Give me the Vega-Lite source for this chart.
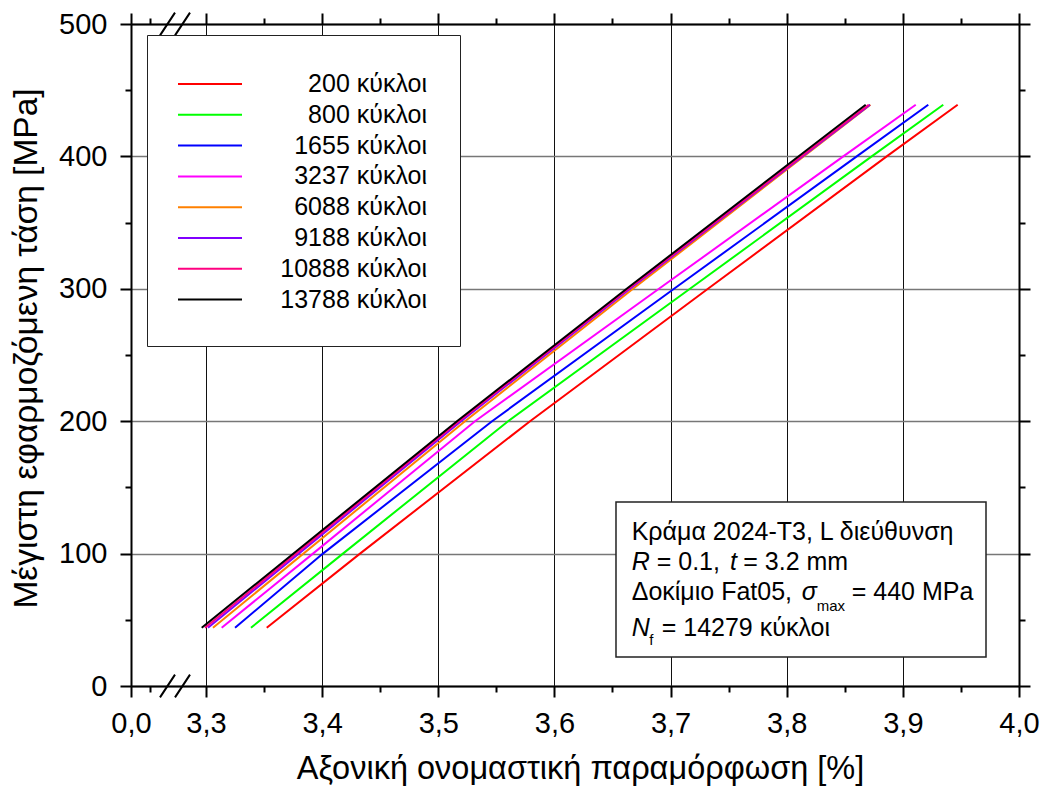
{
  "$schema": "https://vega.github.io/schema/vega-lite/v6.json",
  "autosize": {"type": "none"},
  "padding": {"left": 131, "top": 24, "right": 24, "bottom": 103},
  "width": 888,
  "height": 662,
  "background": "white",
  "config": {
    "font": "Liberation Sans",
    "view": {"stroke": null},
    "axis": {"labelColor": "black", "titleColor": "black", "tickColor": "black", "domainColor": "black", "titleFontWeight": "normal"}
  },
  "resolve": {"scale": {"x": "shared", "y": "shared"}, "axis": {"x": "independent", "y": "independent"}},
  "layer": [
    {
      "data": {"values": [
        {"series": "200 κύκλοι", "strain": 3.3523, "stress": 44},
        {"series": "200 κύκλοι", "strain": 3.4326, "stress": 100},
        {"series": "200 κύκλοι", "strain": 3.5790, "stress": 200},
        {"series": "200 κύκλοι", "strain": 3.7322, "stress": 300},
        {"series": "200 κύκλοι", "strain": 3.8861, "stress": 400},
        {"series": "200 κύκλοι", "strain": 3.9472, "stress": 439},
        {"series": "800 κύκλοι", "strain": 3.3387, "stress": 44},
        {"series": "800 κύκλοι", "strain": 3.4179, "stress": 100},
        {"series": "800 κύκλοι", "strain": 3.5601, "stress": 200},
        {"series": "800 κύκλοι", "strain": 3.7167, "stress": 300},
        {"series": "800 κύκλοι", "strain": 3.8732, "stress": 400},
        {"series": "800 κύκλοι", "strain": 3.9348, "stress": 439},
        {"series": "1655 κύκλοι", "strain": 3.3250, "stress": 44},
        {"series": "1655 κύκλοι", "strain": 3.4007, "stress": 100},
        {"series": "1655 κύκλοι", "strain": 3.5463, "stress": 200},
        {"series": "1655 κύκλοι", "strain": 3.7030, "stress": 300},
        {"series": "1655 κύκλοι", "strain": 3.8603, "stress": 400},
        {"series": "1655 κύκλοι", "strain": 3.9219, "stress": 439},
        {"series": "3237 κύκλοι", "strain": 3.3135, "stress": 44},
        {"series": "3237 κύκλοι", "strain": 3.3921, "stress": 100},
        {"series": "3237 κύκλοι", "strain": 3.5316, "stress": 200},
        {"series": "3237 κύκλοι", "strain": 3.6900, "stress": 300},
        {"series": "3237 κύκλοι", "strain": 3.8487, "stress": 400},
        {"series": "3237 κύκλοι", "strain": 3.9111, "stress": 439},
        {"series": "6088 κύκλοι", "strain": 3.3060, "stress": 44},
        {"series": "6088 κύκλοι", "strain": 3.5230, "stress": 200},
        {"series": "6088 κύκλοι", "strain": 3.6677, "stress": 300},
        {"series": "6088 κύκλοι", "strain": 3.8721, "stress": 439},
        {"series": "9188 κύκλοι", "strain": 3.3017, "stress": 44},
        {"series": "9188 κύκλοι", "strain": 3.5196, "stress": 200},
        {"series": "9188 κύκλοι", "strain": 3.6651, "stress": 300},
        {"series": "9188 κύκλοι", "strain": 3.8717, "stress": 439},
        {"series": "10888 κύκλοι", "strain": 3.2991, "stress": 44},
        {"series": "10888 κύκλοι", "strain": 3.5178, "stress": 200},
        {"series": "10888 κύκλοι", "strain": 3.6638, "stress": 300},
        {"series": "10888 κύκλοι", "strain": 3.8706, "stress": 439},
        {"series": "13788 κύκλοι", "strain": 3.2963, "stress": 44},
        {"series": "13788 κύκλοι", "strain": 3.5161, "stress": 200},
        {"series": "13788 κύκλοι", "strain": 3.6622, "stress": 300},
        {"series": "13788 κύκλοι", "strain": 3.8680, "stress": 439}
      ]},
      "mark": {"type": "line", "strokeWidth": 2},
      "encoding": {
        "x": {
          "field": "strain", "type": "quantitative",
          "scale": {"domain": [0, 0.12, 3.28, 4.0], "range": [0, 45.6, 51.77, 888], "nice": false, "zero": false},
          "axis": {
            "orient": "bottom",
            "values": [0, 3.3, 3.4, 3.5, 3.6, 3.7, 3.8, 3.9, 4.0],
            "labelExpr": "replace(format(datum.value, '.1f'), '.', ',')",
            "labelFontSize": 29, "labelBaseline": "alphabetic", "labelPadding": 35,
            "labelOverlap": false, "labelFlush": false,
            "tickSize": 11, "tickWidth": 2, "domainWidth": 2,
            "grid": true, "gridColor": "#111111", "gridWidth": 1,
            "title": "Αξονική ονομαστική παραμόρφωση [%]",
            "titleFontSize": 32.5, "titleX": 449, "titleY": 92, "titleBaseline": "alphabetic"
          }
        },
        "y": {
          "field": "stress", "type": "quantitative",
          "scale": {"domain": [0, 500], "nice": false, "zero": true},
          "axis": {
            "orient": "left",
            "values": [0, 100, 200, 300, 400, 500],
            "labelFontSize": 29, "labelPadding": 13,
            "tickSize": 11, "tickWidth": 2, "domainWidth": 2,
            "grid": true, "gridColor": "#777777", "gridWidth": 1.5,
            "title": "Μέγιστη εφαρμοζόμενη τάση [MPa]",
            "titleFontSize": 33.5, "titleX": -95, "titleY": 324, "titleBaseline": "alphabetic"
          }
        },
        "color": {
          "field": "series", "type": "nominal",
          "scale": {
            "domain": ["200 κύκλοι", "800 κύκλοι", "1655 κύκλοι", "3237 κύκλοι", "6088 κύκλοι", "9188 κύκλοι", "10888 κύκλοι", "13788 κύκλοι"],
            "range": ["#ff0000", "#00ff00", "#0000ff", "#ff00ff", "#ff8000", "#8000ff", "#ff0080", "#000000"]
          },
          "legend": {
            "orient": "none", "legendX": 16, "legendY": 11,
            "title": null,
            "labelFontSize": 25, "labelColor": "black", "labelAlign": "right", "labelOffset": 201, "labelLimit": 0,
            "symbolType": "M-2.1333,0H2.1333", "symbolSize": 900, "symbolStrokeWidth": 2, "symbolOffset": 14,
            "strokeColor": "#222222", "fillColor": "white", "padding": 33, "rowPadding": 1.8
          }
        }
      }
    },
    {
      "data": {"values": [{}]},
      "mark": {"type": "point", "shape": "M-1.25,0.95L0,-0.95M0,0.95L1.25,-0.95", "size": 576, "filled": false, "color": "black", "strokeWidth": 2, "opacity": 1},
      "encoding": {
        "x": {"datum": 0.11579, "type": "quantitative",
          "axis": {"orient": "top", "values": [0, 3.3, 3.4, 3.5, 3.6, 3.7, 3.8, 3.9, 4.0], "labels": false, "title": null, "grid": false, "tickSize": 11, "tickWidth": 2, "domainWidth": 2}},
        "y": {"datum": 0, "type": "quantitative",
          "axis": {"orient": "right", "values": [0, 100, 200, 300, 400, 500], "labels": false, "title": null, "grid": false, "tickSize": 11, "tickWidth": 2, "domainWidth": 2}}
      }
    },
    {
      "data": {"values": [{}]},
      "mark": {"type": "point", "shape": "M-1.25,0.95L0,-0.95M0,0.95L1.25,-0.95", "size": 576, "filled": false, "color": "black", "strokeWidth": 2, "opacity": 1},
      "encoding": {
        "x": {"datum": 0.11579, "type": "quantitative",
          "axis": {"orient": "bottom", "values": [0.05, 3.35, 3.45, 3.55, 3.65, 3.75, 3.85, 3.95], "labels": false, "title": null, "grid": false, "domain": false, "tickSize": 6, "tickWidth": 2}},
        "y": {"datum": 500, "type": "quantitative",
          "axis": {"orient": "left", "values": [50, 150, 250, 350, 450], "labels": false, "title": null, "grid": false, "domain": false, "tickSize": 6, "tickWidth": 2}}
      }
    },
    {
      "data": {"values": [{}]},
      "mark": {"type": "rect", "fill": "white", "stroke": "#222222", "strokeWidth": 1.5},
      "encoding": {
        "x": {"datum": 3.65301, "type": "quantitative",
          "axis": {"orient": "top", "values": [0.05, 3.35, 3.45, 3.55, 3.65, 3.75, 3.85, 3.95], "labels": false, "title": null, "grid": false, "domain": false, "tickSize": 6, "tickWidth": 2}},
        "x2": {"datum": 3.97159},
        "y": {"datum": 138.97, "type": "quantitative",
          "axis": {"orient": "right", "values": [50, 150, 250, 350, 450], "labels": false, "title": null, "grid": false, "domain": false, "tickSize": 6, "tickWidth": 2}},
        "y2": {"datum": 21.9}
      }
    },
    {
      "data": {"values": [{}]},
      "mark": {"type": "text", "text": "Κράμα 2024-T3, L διεύθυνση", "fontSize": 25, "align": "left", "baseline": "alphabetic", "color": "black"},
      "encoding": {"x": {"datum": 3.66653, "type": "quantitative", "axis": null}, "y": {"datum": 110.27, "type": "quantitative", "axis": null}}
    },
    {
      "data": {"values": [{}]},
      "mark": {"type": "text", "text": "R", "fontSize": 25, "fontStyle": "italic", "align": "left", "baseline": "alphabetic", "color": "black"},
      "encoding": {"x": {"datum": 3.66653, "type": "quantitative", "axis": null}, "y": {"datum": 87.61, "type": "quantitative", "axis": null}}
    },
    {
      "data": {"values": [{}]},
      "mark": {"type": "text", "text": "= 0.1,", "fontSize": 25, "align": "left", "baseline": "alphabetic", "color": "black"},
      "encoding": {"x": {"datum": 3.68806, "type": "quantitative", "axis": null}, "y": {"datum": 87.61, "type": "quantitative", "axis": null}}
    },
    {
      "data": {"values": [{}]},
      "mark": {"type": "text", "text": "t", "fontSize": 25, "fontStyle": "italic", "align": "left", "baseline": "alphabetic", "color": "black"},
      "encoding": {"x": {"datum": 3.75117, "type": "quantitative", "axis": null}, "y": {"datum": 87.61, "type": "quantitative", "axis": null}}
    },
    {
      "data": {"values": [{}]},
      "mark": {"type": "text", "text": "= 3.2 mm", "fontSize": 25, "align": "left", "baseline": "alphabetic", "color": "black"},
      "encoding": {"x": {"datum": 3.76262, "type": "quantitative", "axis": null}, "y": {"datum": 87.61, "type": "quantitative", "axis": null}}
    },
    {
      "data": {"values": [{}]},
      "mark": {"type": "text", "text": "Δοκίμιο Fat05,", "fontSize": 25, "align": "left", "baseline": "alphabetic", "color": "black"},
      "encoding": {"x": {"datum": 3.66653, "type": "quantitative", "axis": null}, "y": {"datum": 64.95, "type": "quantitative", "axis": null}}
    },
    {
      "data": {"values": [{}]},
      "mark": {"type": "text", "text": "σ", "fontSize": 25, "fontStyle": "italic", "align": "left", "baseline": "alphabetic", "color": "black"},
      "encoding": {"x": {"datum": 3.8129, "type": "quantitative", "axis": null}, "y": {"datum": 64.95, "type": "quantitative", "axis": null}}
    },
    {
      "data": {"values": [{}]},
      "mark": {"type": "text", "text": "max", "fontSize": 15, "align": "left", "baseline": "alphabetic", "color": "black"},
      "encoding": {"x": {"datum": 3.82582, "type": "quantitative", "axis": null}, "y": {"datum": 56.65, "type": "quantitative", "axis": null}}
    },
    {
      "data": {"values": [{}]},
      "mark": {"type": "text", "text": "= 440 MPa", "fontSize": 25, "align": "left", "baseline": "alphabetic", "color": "black"},
      "encoding": {"x": {"datum": 3.85595, "type": "quantitative", "axis": null}, "y": {"datum": 64.95, "type": "quantitative", "axis": null}}
    },
    {
      "data": {"values": [{}]},
      "mark": {"type": "text", "text": "N", "fontSize": 25, "fontStyle": "italic", "align": "left", "baseline": "alphabetic", "color": "black"},
      "encoding": {"x": {"datum": 3.66653, "type": "quantitative", "axis": null}, "y": {"datum": 37.39, "type": "quantitative", "axis": null}}
    },
    {
      "data": {"values": [{}]},
      "mark": {"type": "text", "text": "f", "fontSize": 15, "align": "left", "baseline": "alphabetic", "color": "black"},
      "encoding": {"x": {"datum": 3.68169, "type": "quantitative", "axis": null}, "y": {"datum": 30.97, "type": "quantitative", "axis": null}}
    },
    {
      "data": {"values": [{}]},
      "mark": {"type": "text", "text": "= 14279 κύκλοι", "fontSize": 25, "align": "left", "baseline": "alphabetic", "color": "black"},
      "encoding": {"x": {"datum": 3.69236, "type": "quantitative", "axis": null}, "y": {"datum": 37.39, "type": "quantitative", "axis": null}}
    }
  ]
}
